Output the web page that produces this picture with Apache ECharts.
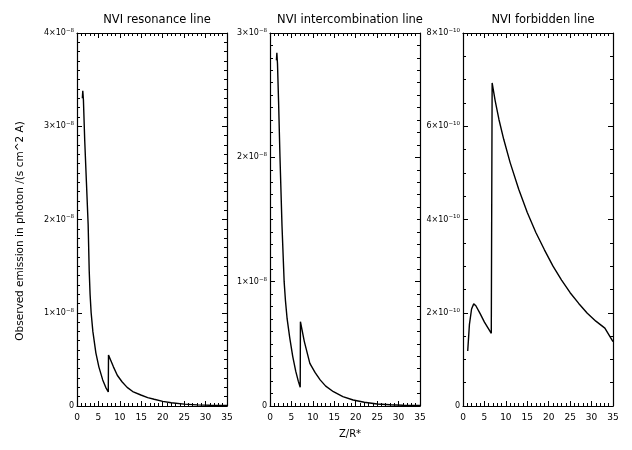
<!DOCTYPE html>
<html>
<head>
<meta charset="utf-8">
<script src="https://cdn.jsdelivr.net/npm/echarts@6/dist/echarts.min.js"></script>
<style>html,body{margin:0;padding:0;background:#fff;}#c{width:632px;height:450px;}</style>
</head>
<body>
<div id="c"></div>
<script>
// ---- data ----
var panelTitles = ['NVI resonance line', 'NVI intercombination line', 'NVI forbidden line'];
var xTitle = 'Z/R*';
var yTitle = 'Observed emission in photon /(s cm^2 A)';
var xTicks = [0, 5, 10, 15, 20, 25, 30, 35];

var resonanceZ = [1.25, 1.35, 1.5, 1.8, 2.2, 2.6, 2.85, 3.05, 3.3, 3.7, 4.4, 5.1, 6.0, 6.7, 7.3, 7.35, 7.5, 8.5, 9.4, 10.5, 11.7, 13, 14.9, 16.5, 18, 20, 22, 25, 28, 31, 35];
var resonanceVal = [3.30e-8, 3.38e-8, 3.28e-8, 2.85e-8, 2.40e-8, 1.95e-8, 1.45e-8, 1.20e-8, 1.00e-8, 0.80e-8, 0.57e-8, 0.42e-8, 0.28e-8, 0.20e-8, 0.15e-8, 0.547e-8, 0.547e-8, 0.42e-8, 0.33e-8, 0.26e-8, 0.20e-8, 0.155e-8, 0.118e-8, 0.09e-8, 0.072e-8, 0.05e-8, 0.035e-8, 0.02e-8, 0.012e-8, 0.008e-8, 0.005e-8];

var intercombZ = [1.5, 1.6, 1.75, 2.0, 2.33, 2.8, 3.3, 3.6, 4.0, 4.6, 5.3, 6.0, 6.6, 7.05, 7.1, 7.2, 8.0, 9.3, 10.5, 11.7, 13, 14.8, 17, 19.4, 22, 25, 28, 31, 35];
var intercombVal = [2.78e-8, 2.84e-8, 2.75e-8, 2.45e-8, 2.00e-8, 1.45e-8, 1.00e-8, 0.85e-8, 0.70e-8, 0.55e-8, 0.40e-8, 0.28e-8, 0.20e-8, 0.15e-8, 0.678e-8, 0.678e-8, 0.52e-8, 0.343e-8, 0.27e-8, 0.21e-8, 0.16e-8, 0.115e-8, 0.075e-8, 0.048e-8, 0.03e-8, 0.016e-8, 0.01e-8, 0.006e-8, 0.004e-8];

var forbiddenZ = [1.1, 1.5, 2.0, 2.5, 3.0, 4.0, 5.0, 6.0, 6.6, 6.8, 7.5, 8.4, 9.5, 11, 13, 15, 17, 19, 21, 23, 25, 27, 29, 31, 33.1, 35];
var forbiddenVal = [1.18e-10, 1.75e-10, 2.08e-10, 2.19e-10, 2.15e-10, 1.98e-10, 1.80e-10, 1.65e-10, 1.56e-10, 6.93e-10, 6.55e-10, 6.14e-10, 5.72e-10, 5.22e-10, 4.65e-10, 4.15e-10, 3.72e-10, 3.35e-10, 3.00e-10, 2.70e-10, 2.43e-10, 2.20e-10, 1.99e-10, 1.82e-10, 1.67e-10, 1.38e-10];

var yMax = [4e-8, 3e-8, 8e-10];
var yInterval = [1e-8, 1e-8, 2e-10];
var yExp = [-8, -8, -10];
var yMinorSplit = [10, 10, 4];

// ---- chart ----
function pairs(z, v) { return z.map(function (x, i) { return [x, v[i]]; }); }
var seriesData = [pairs(resonanceZ, resonanceVal), pairs(intercombZ, intercombVal), pairs(forbiddenZ, forbiddenVal)];

var gridLefts = [77, 270, 463];
var FONT = 'DejaVu Sans';
var grids = [], xAxes = [], yAxes = [], series = [], titles = [];

for (var i = 0; i < 3; i++) {
  grids.push({ left: gridLefts[i], width: 150, top: 33, height: 373, containLabel: false });
  titles.push({ text: panelTitles[i], left: gridLefts[i] + 75, top: 9, textAlign: 'center',
    textStyle: { fontFamily: FONT, fontSize: 11.5, fontWeight: 'normal', color: '#000' } });
  var axLine = { show: true, onZero: false, lineStyle: { color: '#000', width: 1.2 } };
  // bottom x
  xAxes.push({ type: 'value', gridIndex: i, position: 'bottom', min: 0, max: 35, interval: 5,
    axisLine: axLine, splitLine: { show: false },
    axisTick: { show: true, inside: true, length: 5, lineStyle: { color: '#000', width: 1 } },
    minorTick: { show: true, splitNumber: 5, length: 3, lineStyle: { color: '#000', width: 1 } },
    axisLabel: { fontFamily: FONT, fontSize: 9, color: '#000', margin: 7,
      formatter: function (v) { return xTicks.indexOf(v) >= 0 ? String(v) : ''; } } });
  // top x
  xAxes.push({ type: 'value', gridIndex: i, position: 'top', min: 0, max: 35, interval: 5,
    axisLine: axLine, splitLine: { show: false },
    axisTick: { show: true, inside: true, length: 5, lineStyle: { color: '#000', width: 1 } },
    minorTick: { show: true, splitNumber: 5, length: 3, lineStyle: { color: '#000', width: 1 } },
    axisLabel: { show: false } });
  (function (k) {
    yAxes.push({ type: 'value', gridIndex: k, position: 'left', min: 0, max: yMax[k], interval: yInterval[k],
      axisLine: axLine, splitLine: { show: false },
      axisTick: { show: true, inside: true, length: 5, lineStyle: { color: '#000', width: 1 } },
      minorTick: { show: true, splitNumber: yMinorSplit[k], length: 3, lineStyle: { color: '#000', width: 1 } },
      axisLabel: { margin: 3, color: '#000',
        formatter: function (v) {
          if (v === 0) return '{m|0}';
          var m = Math.round(v / Math.pow(10, yExp[k]));
          return '{m|' + m + '×10}{e|−' + (-yExp[k]) + '}';
        },
        rich: { m: { fontFamily: FONT, fontSize: 8, color: '#000' },
                e: { fontFamily: FONT, fontSize: 5.5, color: '#000', padding: [0, 0, 5, 0] } } } });
  })(i);
  yAxes.push({ type: 'value', gridIndex: i, position: 'right', min: 0, max: yMax[i], interval: yInterval[i],
    axisLine: axLine, splitLine: { show: false },
    axisTick: { show: true, inside: true, length: 5, lineStyle: { color: '#000', width: 1 } },
    minorTick: { show: true, splitNumber: yMinorSplit[i], length: 3, lineStyle: { color: '#000', width: 1 } },
    axisLabel: { show: false } });
  series.push({ type: 'line', xAxisIndex: 2 * i, yAxisIndex: 2 * i, data: seriesData[i],
    showSymbol: false, symbol: 'none', lineStyle: { color: '#000', width: 1.4 }, silent: true });
}

titles.push({ text: xTitle, left: 345, top: 424, textAlign: 'center',
  textStyle: { fontFamily: FONT, fontSize: 10, fontWeight: 'normal', color: '#000' } });

var chart = echarts.init(document.getElementById('c'));
chart.setOption({
  animation: false,
  backgroundColor: '#fff',
  title: titles,
  grid: grids,
  xAxis: xAxes,
  yAxis: yAxes,
  series: series,
  graphic: [{ type: 'text', x: 20, y: 231, rotation: Math.PI / 2,
    style: { text: yTitle, fontFamily: FONT, fontSize: 10.5, fill: '#000', align: 'center', verticalAlign: 'middle' } }]
});
</script>
</body>
</html>
